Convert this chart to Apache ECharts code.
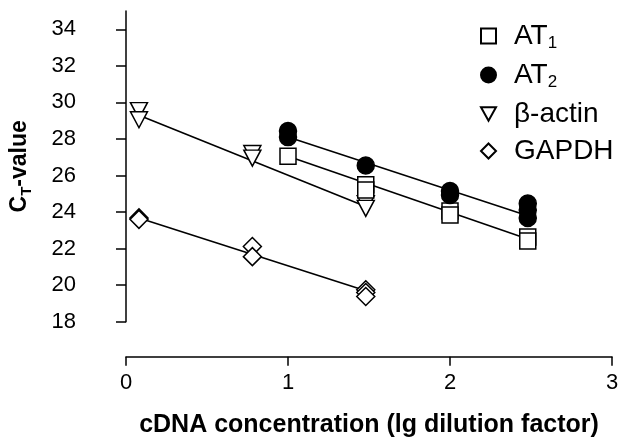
<!DOCTYPE html>
<html>
<head>
<meta charset="utf-8">
<script src="https://cdn.jsdelivr.net/npm/echarts@6/dist/echarts.min.js"></script>
<style>
  html, body { margin: 0; padding: 0; background: #fff; }
  #chart { width: 618px; height: 437px; }
</style>
</head>
<body>
<div id="chart"></div>
<script>
// axis ticks
var xTicks = [0, 1, 2, 3];
var yTicks = [18, 20, 22, 24, 26, 28, 30, 32, 34];

// measured points (x = lg dilution factor, y = CT value)
var at1X = [1.0, 1.48, 1.48, 2.0, 2.0, 2.48, 2.48];
var at1Y = [27.05, 25.5, 25.2, 24.06, 23.84, 22.64, 22.42];

var at2X = [1.0, 1.0, 1.48, 2.0, 2.0, 2.48, 2.48, 2.48];
var at2Y = [28.43, 28.1, 26.55, 25.15, 24.93, 24.47, 24.11, 23.68];

var actinX = [0.08, 0.08, 0.78, 0.78, 1.48, 1.48];
var actinY = [29.55, 29.05, 27.2, 26.95, 24.45, 24.2];

var gapdhX = [0.08, 0.08, 0.78, 0.78, 1.48, 1.48, 1.48];
var gapdhY = [23.68, 23.6, 22.11, 21.56, 19.75, 19.6, 19.38];

// regression lines (start, end)
var fitAT1X = [1.0, 2.48],   fitAT1Y = [27.05, 22.52];
var fitAT2X = [1.0, 2.48],   fitAT2Y = [28.1, 23.8];
var fitActinX = [0.08, 1.48], fitActinY = [29.3, 24.3];
var fitGapdhX = [0.08, 1.48], fitGapdhY = [23.67, 19.69];

var FONT = '"Liberation Sans", Arial, sans-serif';
var downTri = 'path://M0,0 L20,0 L10,18 Z';

function pairs(xs, ys) {
    return xs.map(function (x, i) { return [x, ys[i]]; });
}

function fitLine(xs, ys) {
    return {
        type: 'line',
        data: pairs(xs, ys),
        symbol: 'none',
        silent: true,
        z: 1,
        lineStyle: { color: '#000', width: 1.6 }
    };
}

function points(name, xs, ys, symbol, size, filled) {
    return {
        name: name,
        type: 'scatter',
        data: pairs(xs, ys),
        symbol: symbol,
        symbolSize: size,
        z: 3,
        itemStyle: {
            color: filled ? '#000' : '#fff',
            borderColor: '#000',
            borderWidth: 1.5,
            opacity: 1
        }
    };
}

var chart = echarts.init(document.getElementById('chart'));

var option = {
    animation: false,
    backgroundColor: '#fff',
    textStyle: { fontFamily: FONT, color: '#000' },
    grid: { left: 126, right: 6, top: 11, bottom: 115.3, outerBoundsMode: 'none' },
    legend: {
        orient: 'vertical',
        left: 475,
        top: 17,
        itemWidth: 15,
        itemHeight: 15,
        itemGap: 9,
        data: ['AT1', 'AT2', 'β-actin', 'GAPDH'],
        formatter: function (name) {
            if (name === 'AT1') return '{n|AT}{s|1}';
            if (name === 'AT2') return '{n|AT}{s|2}';
            return '{n|' + name + '}';
        },
        textStyle: {
            padding: [0, 0, 0, 13],
            rich: {
                n: { fontSize: 28, lineHeight: 32, fontFamily: FONT, color: '#000' },
                s: { fontSize: 17, lineHeight: 12, verticalAlign: 'bottom', fontFamily: FONT, color: '#000' }
            }
        }
    },
    xAxis: {
        type: 'value',
        min: 0,
        max: 3,
        interval: 1,
        offset: 35,
        name: 'cDNA concentration (lg dilution factor)',
        nameLocation: 'middle',
        nameGap: 56,
        nameTextStyle: { fontSize: 25, fontWeight: 'bold', fontFamily: FONT, color: '#000' },
        splitLine: { show: false },
        axisLine: { lineStyle: { color: '#000', width: 1.5 } },
        axisTick: { length: 9, lineStyle: { color: '#000', width: 1.5 } },
        axisLabel: {
            customValues: xTicks,
            margin: 15,
            fontSize: 22,
            fontFamily: FONT,
            color: '#000'
        }
    },
    yAxis: {
        type: 'value',
        min: 18,
        max: 35,
        interval: 2,
        offset: 35,
        name: '{b|C}{s|T}{b|-value}',
        nameLocation: 'middle',
        nameGap: 57,
        nameTextStyle: {
            rich: {
                b: { fontSize: 23, fontWeight: 'bold', lineHeight: 28, fontFamily: FONT, color: '#000' },
                s: { fontSize: 15, fontWeight: 'bold', lineHeight: 10, verticalAlign: 'bottom', fontFamily: FONT, color: '#000' }
            }
        },
        splitLine: { show: false },
        axisLine: { lineStyle: { color: '#000', width: 1.5 } },
        axisTick: { length: 10, customValues: yTicks, lineStyle: { color: '#000', width: 1.5 } },
        axisLabel: {
            customValues: yTicks,
            margin: 15,
            fontSize: 22,
            fontFamily: FONT,
            color: '#000'
        }
    },
    series: [
        fitLine(fitAT1X, fitAT1Y),
        fitLine(fitAT2X, fitAT2Y),
        fitLine(fitActinX, fitActinY),
        fitLine(fitGapdhX, fitGapdhY),
        points('β-actin', actinX, actinY, downTri, [17, 16], false),
        points('GAPDH', gapdhX, gapdhY, 'diamond', 18, false),
        points('AT1', at1X, at1Y, 'rect', 16, false),
        points('AT2', at2X, at2Y, 'circle', 17, true)
    ]
};

chart.setOption(option);
</script>
</body>
</html>
